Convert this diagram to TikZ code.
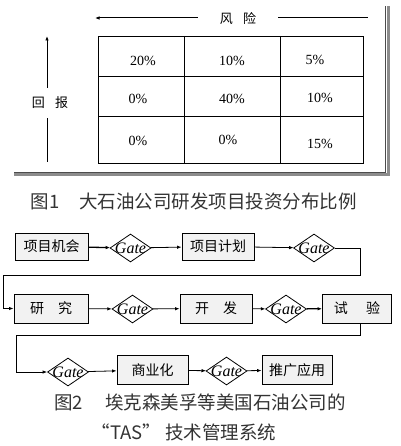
\documentclass[tikz,border=0pt]{standalone}
\usepackage{fontspec}
\setmainfont{Liberation Serif}
\newfontfamily\cjk{Noto Sans CJK SC}
\usetikzlibrary{shapes.geometric, arrows.meta}

\begin{document}
\begin{tikzpicture}[x=1pt, y=-1pt,
    >={Latex[length=4.5pt, width=3.5pt]},
    cell/.style={font=\fontsize{14}{16}\selectfont},
    axis/.style={font=\cjk\fontsize{13}{15}\selectfont},
    box/.style={rectangle, draw, line width=0.9pt, fill=gray!10, inner sep=0pt,
        minimum height=29pt, font=\cjk\fontsize{14}{16}\selectfont},
    gate/.style={diamond, draw, line width=0.8pt, fill=white, inner sep=0pt,
        minimum width=41pt, minimum height=28pt, font=\itshape\fontsize{16}{18}\selectfont},
    link/.style={->, line width=0.8pt},
    caption/.style={font=\cjk\fontsize{18.5}{20}\selectfont, text=black!80}]
    \useasboundingbox (0,0) rectangle (400,446);

    % figure 1 frame
    \draw[black!45, line width=3pt] (14,175) -- (388,175) -- (388,6);
    \draw[black!70, line width=0.5pt] (14,172.5) -- (385.5,172.5) -- (385.5,6);

    % risk / return axes
    \node[axis, minimum width=80pt] (risk) at (238,19) {风\hspace{0.8em}险};
    \coordinate (riskl) at (95,18);
    \coordinate (riskr) at (368,18);
    \draw[->, line width=1pt] (risk.west |- riskl) -- (riskl);
    \draw[line width=1pt] (risk.east |- riskr) -- (riskr);

    \node[axis, minimum height=30pt] (ret) at (50,103) {回\hspace{0.8em}报};
    \coordinate (retu) at (47,36);
    \coordinate (retd) at (47,162);
    \draw[->, line width=1pt] (ret.north -| retu) -- (retu);
    \draw[line width=1pt] (ret.south -| retd) -- (retd);

    % table
    \draw[line width=0.8pt] (98,36) rectangle (363,163);
    \draw[line width=0.8pt] (184,36) -- (184,163) (280,36) -- (280,163);
    \draw[line width=0.8pt] (98,76) -- (363,76) (98,116) -- (363,116);

    \node[cell] (c11) at (143,61) {20\%};
    \node[cell] (c12) at (232,61) {10\%};
    \node[cell] (c13) at (315,60) {5\%};
    \node[cell] (c21) at (138,99) {0\%};
    \node[cell] (c22) at (232,99) {40\%};
    \node[cell] (c23) at (320,98) {10\%};
    \node[cell] (c31) at (138,141) {0\%};
    \node[cell] (c32) at (228,140) {0\%};
    \node[cell] (c33) at (320,144) {15\%};

    \node[caption, anchor=west] (cap1) at (27,201) {图1\hspace{20pt}大石油公司研发项目投资分布比例};

    % figure 2 flow
    \node[box, minimum width=73pt, minimum height=27pt] (opp) at (51.5,246.5) {项目机会};
    \node[gate] (g1) at (130.5,248) {\makebox[0pt]{Gate}};
    \node[box, minimum width=72pt, minimum height=27pt] (plan) at (218,246.5) {项目计划};
    \node[gate] (g2) at (314,248) {\makebox[0pt]{Gate}};

    \node[box, minimum width=74pt] (res) at (51,308.5) {研\hspace{1em}究};
    \node[gate] (g3) at (132.5,309) {\makebox[0pt]{Gate}};
    \node[box, minimum width=72pt] (dev) at (216,308.5) {开\hspace{1em}发};
    \node[gate] (g4) at (286,309) {\makebox[0pt]{Gate}};
    \node[box, minimum width=69pt] (test) at (357,308.5) {试\hspace{1.3em}验};

    \node[gate] (g5) at (68,372) {\makebox[0pt]{Gate}};
    \node[box, minimum width=71pt] (comm) at (152.5,370) {商业化};
    \node[gate] (g6) at (226.5,371) {\makebox[0pt]{Gate}};
    \node[box, minimum width=70pt] (appl) at (297,370) {推广应用};

    \coordinate (bend1) at (360,275);
    \coordinate (bend2) at (3,275);
    \coordinate (bend3) at (16,335);

    \draw[link, line width=1.3pt] (opp) -- (g1);
    \draw[link] (g1) -- (plan);
    \draw[link] (plan) -- (g2);
    \draw[link] (g2.east) -| (bend1) -- (bend2) |- (res.west);
    \draw[link] (res) -- (g3);
    \draw[link] (g3) -- (dev);
    \draw[link] (dev) -- (g4);
    \draw[link, line width=1.3pt] (g4) -- (test);
    \draw[link] (test.south -| bend1) |- (bend3) |- (g5.west);
    \draw[link] (g5) -- (comm);
    \draw[link] (comm) -- (g6);
    \draw[link] (g6) -- (appl);

    \node[caption] (cap2a) at (200,402) {图2\hspace{22pt}埃克森美孚等美国石油公司的};
    \node[caption] (cap2b) at (184,432) {“TAS”\hspace{4pt}技术管理系统};
\end{tikzpicture}
\end{document}
